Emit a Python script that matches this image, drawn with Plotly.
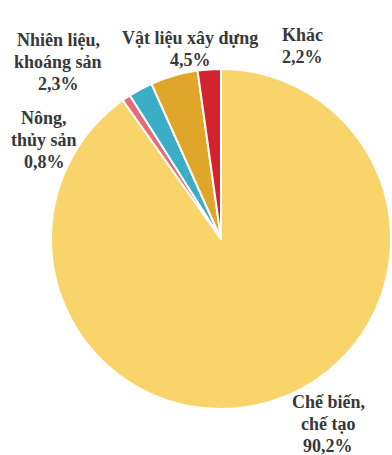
import plotly.graph_objects as go

# Cơ cấu hàng xuất khẩu theo nhóm ngành (%)
categories = ["Chế biến, chế tạo", "Nông, thủy sản", "Nhiên liệu, khoáng sản",
              "Vật liệu xây dựng", "Khác"]
shares = [90.2, 0.8, 2.3, 4.5, 2.2]
label_lines = [
    ["Chế biến,", "chế tạo"],
    ["Nông,", "thủy sản"],
    ["Nhiên liệu,", "khoáng sản"],
    ["Vật liệu xây dựng"],
    ["Khác"],
]
colors = ["#F9D46A", "#E46C78", "#3AAEC6", "#E0A62A", "#D2232F"]

W, H = 392, 455
cx, cy, r = 221, 239, 170  # pixel centre / radius of the pie

fig = go.Figure(go.Pie(
    labels=categories,
    values=shares,
    sort=False,
    direction="clockwise",
    rotation=0,
    marker=dict(colors=colors, line=dict(color="white", width=2)),
    textinfo="none",
    hoverinfo="label+percent",
    showlegend=False,
    domain=dict(x=[(cx - r) / W, (cx + r) / W],
                y=[(H - cy - r) / H, (H - cy + r) / H]),
))

# label anchor positions (pixel centre of first line)
label_pos = [(328, 402), (44, 118), (58, 40), (190, 38), (302, 35)]


def fmt(v):
    return f"{v:.1f}%".replace(".", ",")


annotations = []
for lines, val, (x, y) in zip(label_lines, shares, label_pos):
    all_lines = lines + [fmt(val)]
    for i, t in enumerate(all_lines):
        annotations.append(dict(
            x=x / W, y=1 - (y + i * 22) / H, xref="paper", yref="paper",
            text=f"<b>{t}</b>", showarrow=False,
            xanchor="center", yanchor="middle",
            font=dict(family="Liberation Serif", size=18, color="#383838"),
        ))

fig.update_layout(
    width=W, height=H,
    margin=dict(l=0, r=0, t=0, b=0),
    paper_bgcolor="white",
    plot_bgcolor="white",
    annotations=annotations,
)

fig.write_html("out.html")
